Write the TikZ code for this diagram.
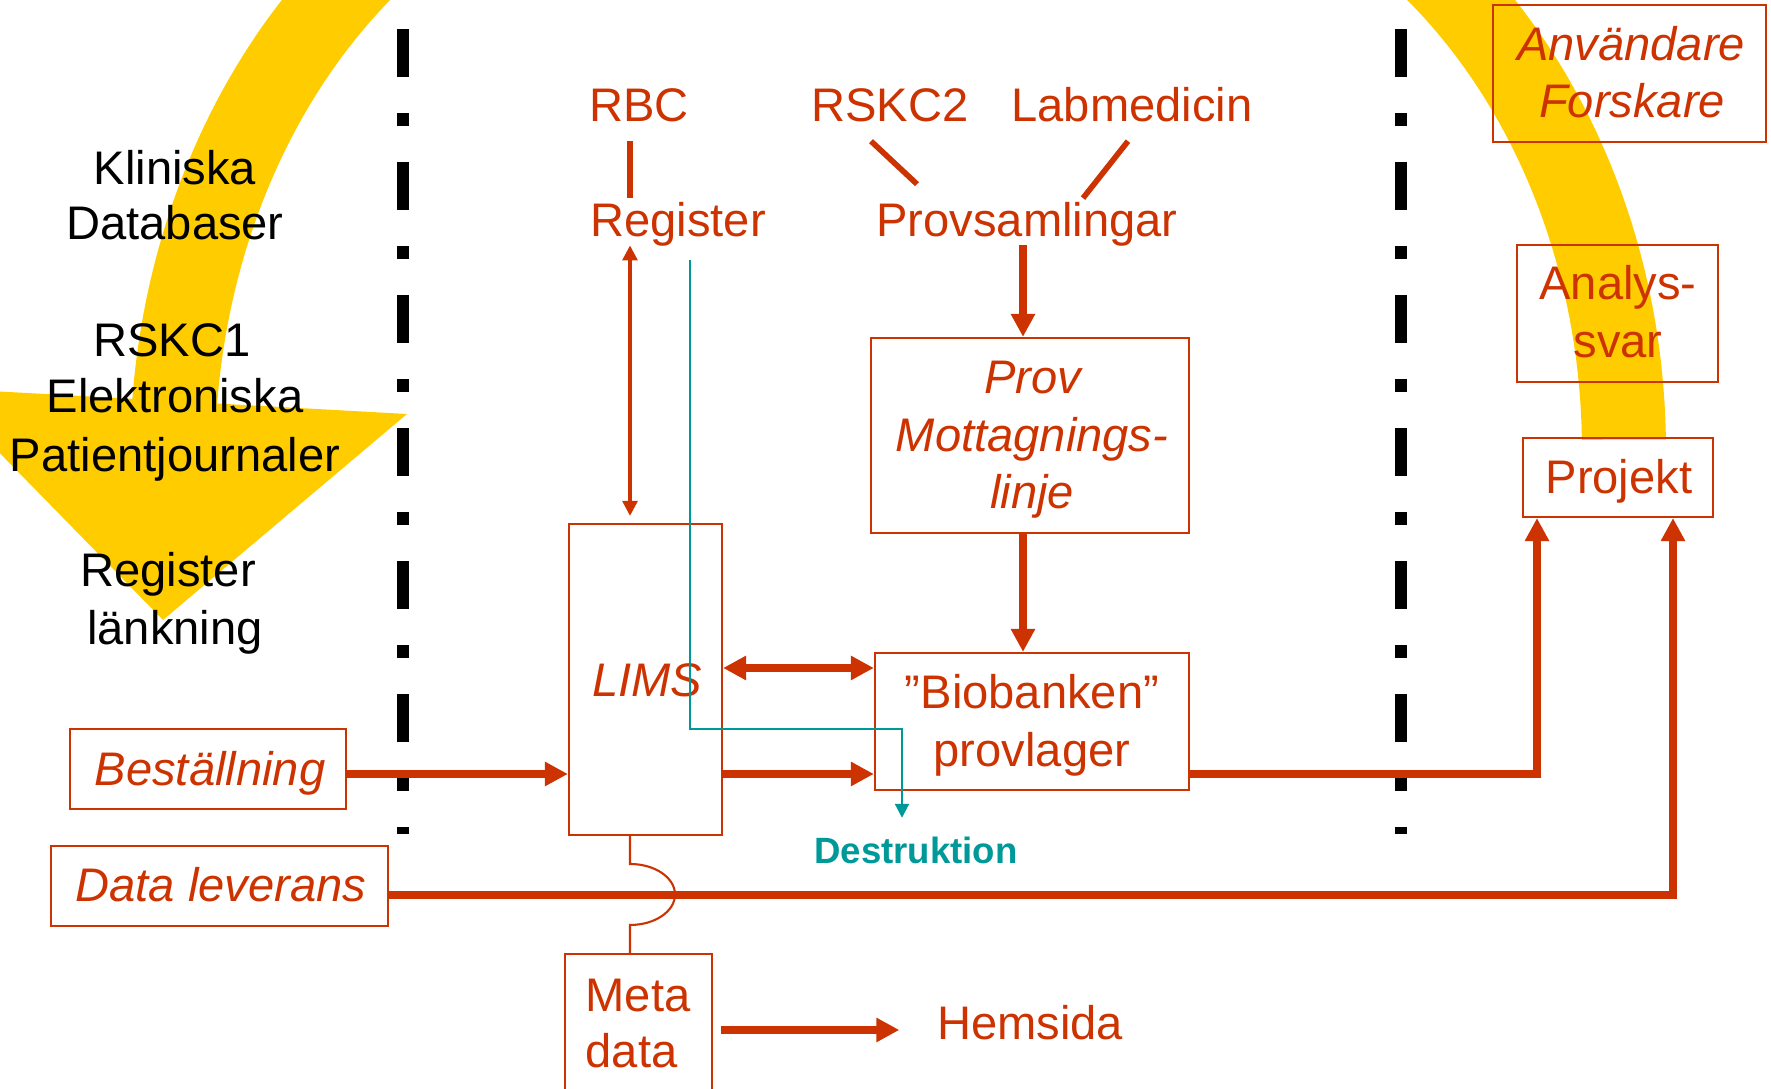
\documentclass[tikz,border=0pt]{standalone}
\usepackage{fontspec}
\setmainfont{Liberation Sans}
\usetikzlibrary{arrows.meta,calc}
\definecolor{bbred}{HTML}{CC3300}
\definecolor{bbyel}{HTML}{FFCC00}
\definecolor{bbteal}{HTML}{009999}
\newcommand{\bbsize}{\fontsize{13.4}{16}\selectfont}
\begin{document}
\begin{tikzpicture}[x=0.01cm, y=-0.01cm,
  txt/.style={inner sep=0pt, anchor=base, font=\bbsize},
  rtxt/.style={txt, text=bbred},
  itxt/.style={rtxt, font=\bbsize\itshape},
  box/.style={draw=bbred, line width=0.6pt, inner sep=0pt},
  fatarrow/.style={draw=bbred, line width=2pt, -{Triangle[length=0.23cm,width=0.23cm]}},
  fatdouble/.style={draw=bbred, line width=2pt, {Triangle[length=0.23cm,width=0.23cm]}-{Triangle[length=0.23cm,width=0.23cm]}},
  fatline/.style={draw=bbred, line width=1.6pt},
  thindouble/.style={draw=bbred, line width=0.9pt, {Triangle[length=0.15cm,width=0.15cm]}-{Triangle[length=0.15cm,width=0.15cm]}},
  thinline/.style={draw=bbred, line width=0.6pt},
  tealarrow/.style={draw=bbteal, line width=0.6pt, -{Triangle[length=0.14cm,width=0.14cm]}},
  divider/.style={draw=black, line width=0.12cm, dash pattern=on 0.48cm off 0.36cm on 0.13cm off 0.36cm}
]
\useasboundingbox (0,0) rectangle (1771,1089);
\clip (0,0) rectangle (1771,1089);

% yellow arrows
\fill[bbyel] plot[domain=180:224.6, samples=40, variable=\t] ({700+570*cos(\t)},{460+677*sin(\t)})
  -- plot[domain=232.6:180, samples=40, variable=\t] ({700+485*cos(\t)},{460+598*sin(\t)}) -- cycle;
\fill[bbyel] (-64,388) -- (407,414) -- (163,620) -- cycle;
\fill[bbyel] plot[domain=-0.9:-44.7, samples=40, variable=\t] ({1100+566*cos(\t)},{450+662*sin(\t)})
  -- plot[domain=-52.8:-1.0, samples=40, variable=\t] ({1100+482*cos(\t)},{450+584*sin(\t)}) -- cycle;

% black texts
\node[txt] (kl1) at (175,185) {Kliniska};
\node[txt] (kl2) at (175,240) {Databaser};
\node[txt] (ek1) at (172,357) {RSKC1};
\node[txt] (ek2) at (175,413) {Elektroniska};
\node[txt] (ek3) at (175,472) {Patientjournaler};
\node[txt] (rl1) at (168,587) {Register};
\node[txt] (rl2) at (175,645) {länkning};

% dividers
\coordinate (dla) at (403,29); \coordinate (dlb) at (403,834);
\coordinate (dra) at (1401,29); \coordinate (drb) at (1401,834);
\draw[divider] (dla) -- (dlb);
\draw[divider] (dra) -- (drb);

% boxes
\node[box, minimum width=1.53cm, minimum height=3.11cm] (lims) at (645.5,679.5) {};
\node[box, minimum width=3.18cm, minimum height=1.95cm] (prov) at (1030,435.5) {};
\node[box, minimum width=3.14cm, minimum height=1.37cm] (bio) at (1032,721.5) {};
\node[box, minimum width=2.76cm, minimum height=0.80cm] (best) at (208,769) {};
\node[box, minimum width=3.37cm, minimum height=0.80cm] (data) at (219.5,886) {};
\node[box, minimum width=1.90cm, minimum height=0.79cm] (proj) at (1618,477.5) {};
\node[box, minimum width=2.01cm, minimum height=1.37cm] (analys) at (1617.5,313.5) {};
\node[box, minimum width=2.73cm, minimum height=1.37cm] (anv) at (1629.5,73.5) {};
\node[box, minimum width=1.47cm, minimum height=1.46cm] (meta) at (638.5,1027) {};

% red texts
\node[rtxt] (tRBC) at (639,122) {RBC};
\node[rtxt] (tRSKC2) at (890,122) {RSKC2};
\node[rtxt] (tLab) at (1132,122) {Labmedicin};
\node[rtxt] (tReg) at (678,237) {Register};
\node[rtxt] (tProvs) at (1027,237) {Provsamlingar};
\node[itxt] (tProv1) at (1033,394) {Prov};
\node[itxt] (tProv2) at (1032,452) {Mottagnings-};
\node[itxt] (tProv3) at (1032,509) {linje};
\node[itxt] (tLIMS) at (647,697) {LIMS};
\node[rtxt] (tBio1) at (1032,709) {”Biobanken”};
\node[rtxt] (tBio2) at (1032,767) {provlager};
\node[itxt] (tBest) at (210,786) {Beställning};
\node[itxt] (tData) at (221,902) {Data leverans};
\node[rtxt, anchor=base west] (tMeta1) at (585,1012) {Meta};
\node[rtxt, anchor=base west] (tMeta2) at (585,1068) {data};
\node[rtxt] (tHem) at (1030,1040) {Hemsida};
\node[txt, text=bbteal, font=\fontsize{10.4}{12}\selectfont\bfseries] (tDest) at (916,864) {Destruktion};
\node[itxt] (tAnv1) at (1631,61) {Användare};
\node[itxt] (tAnv2) at (1632,118) {Forskare};
\node[rtxt] (tAn1) at (1618,300) {Analys-};
\node[rtxt] (tAn2) at (1618,358) {svar};
\node[rtxt] (tProj) at (1619,494) {Projekt};

% rows
\coordinate (rowA) at (0,668);
\coordinate (rowB) at (0,774);
\coordinate (rowC) at (0,895);
\coordinate (rowD) at (0,1030);

% connectors
\draw[fatline] ($(tRBC.south)+(-9,18)$) -- ($(tReg.north)+(-48,-4)$);
\draw[fatline] ($(tRSKC2.south)+(-19,18)$) -- ($(tProvs.north)+(-110,-18)$);
\draw[fatline] ($(tLab.south)+(-4,18)$) -- ($(tProvs.north)+(56,-4)$);
\draw[thindouble] ($(tReg.south)+(-48,-2)$) -- ($(lims.north)+(-15.5,-7)$);
\draw[fatarrow] ($(tProvs.south)+(-4,-2)$) -- ($(prov.north)+(-7,0)$);
\draw[fatarrow] ($(prov.south)+(-7,0)$) -- ($(bio.north)+(-9,0)$);
\draw[fatdouble] (lims.east |- rowA) -- (bio.west |- rowA);
\draw[fatarrow] (lims.east |- rowB) -- (bio.west |- rowB);
\draw[fatarrow] (best.east |- rowB) -- (lims.west |- rowB);
\draw[fatarrow] (bio.east |- rowB) -| ($(proj.south)+(-81,0)$);
\draw[fatarrow] (data.east |- rowC) -| ($(proj.south)+(55,0)$);
\draw[fatarrow] ($(meta.east |- rowD)+(8,0)$) -- ($(tHem.west |- rowD)+(-37,0)$);
\draw[thinline] (lims.south -| 630,0) -- (630,864) .. controls (655,864) and (675,877.7) .. (675,894.5)
  .. controls (675,911.3) and (655,925) .. (630,925) -- (meta.north -| 630,0);
\draw[tealarrow] ($(tReg.south)+(12,13)$) |- ($(tDest.north)+(-14,-108)$) -- ($(tDest.north)+(-14,-19)$);
\end{tikzpicture}
\end{document}
